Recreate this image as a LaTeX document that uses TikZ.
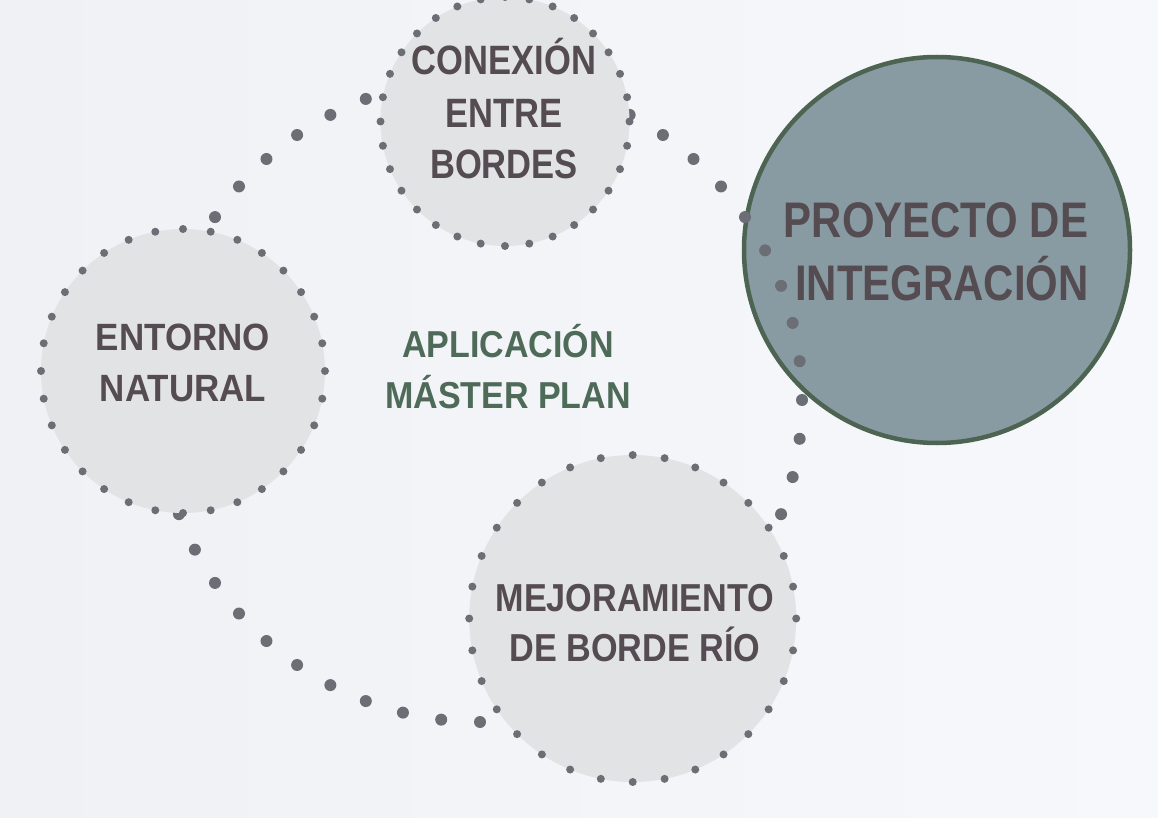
\documentclass[tikz,border=0pt]{standalone}
\usepackage{fontspec}
\usepackage{graphicx}
\newfontfamily\labfont{Liberation Sans}[FakeStretch=0.86]
\definecolor{bgl}{HTML}{EFF1F4}
\definecolor{bgr}{HTML}{F7F8FB}
\definecolor{dotc}{HTML}{6B6F75}
\definecolor{cfill}{HTML}{E2E3E5}
\definecolor{pfill}{HTML}{889BA3}
\definecolor{pborder}{HTML}{4D6452}
\definecolor{txt}{HTML}{554C52}
\definecolor{grn}{HTML}{4E6A58}
\begin{document}
\begin{tikzpicture}[x=1pt,y=-1pt,
  graycirc/.style={circle,fill=cfill,inner sep=0pt,minimum size=#1},
  projcirc/.style={circle,fill=pfill,draw=pborder,line width=4.5pt,inner sep=0pt,minimum size=#1},
  lbl/.style={anchor=base,inner sep=0pt,text=txt,font=\labfont\bfseries\fontsize{#1}{#1}\selectfont},
  glbl/.style={anchor=base,inner sep=0pt,text=grn,font=\labfont\bfseries\fontsize{#1}{#1}\selectfont},
  bigdot/.style={fill=dotc},
  smalldot/.style={fill=dotc}]
\path[use as bounding box,left color=bgl,right color=bgr] (0,0) rectangle (1158,818);

% main project circle
\node[projcirc=386pt] (proj) at (937,250) {};

% large dotted ring
\coordinate (ringc) at (480,400);
\foreach \k in {0,...,51}
  \fill[bigdot] (ringc) ++(\k*6.9230769:322pt) circle (6pt);

% small circles
\node[graycirc=249pt] (con) at (505,121.5) {};
\node[graycirc=284pt] (ent) at (183,371) {};
\node[graycirc=327pt] (mej) at (632.7,618.5) {};
\foreach \k in {0,...,31}{
  \fill[smalldot] (con.center) ++(\k*11.25:124.5pt) circle (4pt);
  \fill[smalldot] (ent.center) ++(\k*11.25:142pt) circle (4pt);
  \fill[smalldot] (mej.center) ++(\k*11.25:163.5pt) circle (4pt);
}

% texts
\node[lbl=41] (con1) at (504,75) {\scalebox{0.98}[1]{CONEXIÓN}};
\node[lbl=41] (con2) at (504,128) {\scalebox{0.98}[1]{ENTRE}};
\node[lbl=41] (con3) at (504,179) {\scalebox{0.98}[1]{BORDES}};

\node[lbl=38] (ent1) at (183,350) {\scalebox{1.07}[1]{ENTORNO}};
\node[lbl=38] (ent2) at (183,401.7) {\scalebox{1.07}[1]{NATURAL}};

\node[lbl=39] (mej1) at (635,611.7) {\scalebox{1.02}[1]{MEJORAMIENTO}};
\node[lbl=39] (mej2) at (635,661.7) {\scalebox{1.02}[1]{DE BORDE RÍO}};

\node[lbl=50] (pro1) at (936,238) {\scalebox{0.975}[1]{PROYECTO DE}};
\node[lbl=50] (pro2) at (942,300) {\scalebox{0.975}[1]{INTEGRACIÓN}};

\node[glbl=37.5] (apl1) at (508,357) {\scalebox{1.055}[1]{APLICACIÓN}};
\node[glbl=37.5] (apl2) at (508,408) {\scalebox{1.055}[1]{MÁSTER PLAN}};
\end{tikzpicture}
\end{document}
